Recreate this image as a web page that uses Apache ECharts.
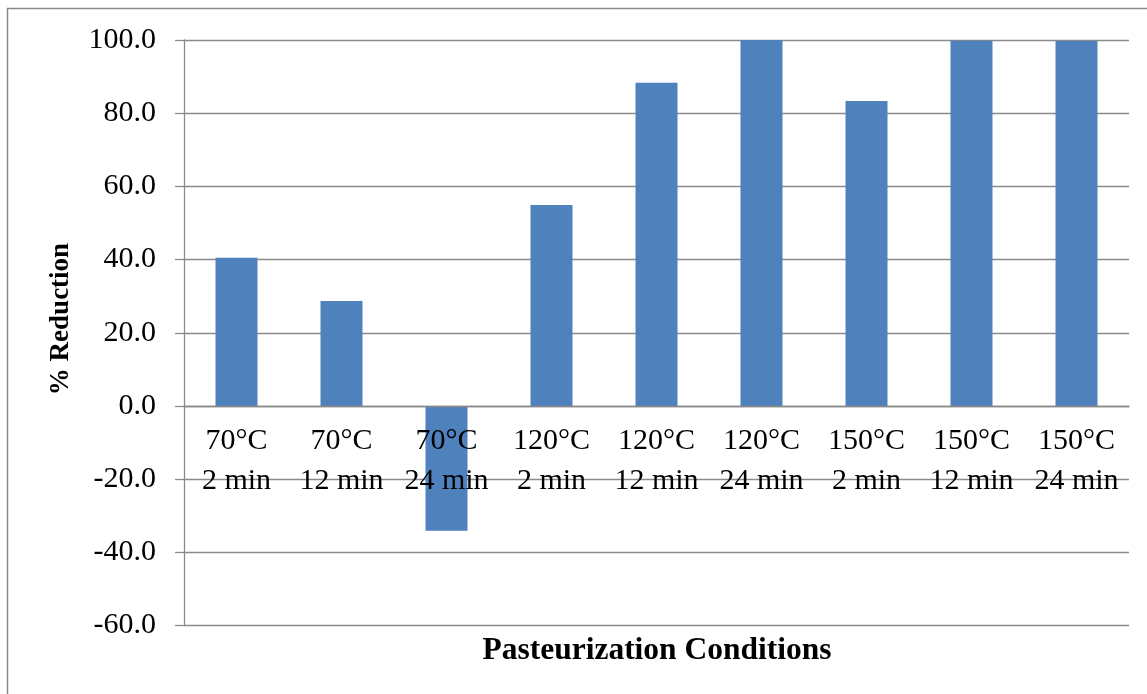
<!DOCTYPE html>
<html>
<head>
<meta charset="utf-8">
<script src="https://cdn.jsdelivr.net/npm/echarts@6/dist/echarts.min.js"></script>
<style>
  html, body { margin: 0; padding: 0; background: #fff; }
  #main { width: 1147px; height: 694px; }
</style>
</head>
<body>
<div id="main"></div>
<script>
// data
const conditions = [
  '70°C\n2 min', '70°C\n12 min', '70°C\n24 min',
  '120°C\n2 min', '120°C\n12 min', '120°C\n24 min',
  '150°C\n2 min', '150°C\n12 min', '150°C\n24 min'
]
const reduction = [40.5, 28.7, -34.1, 54.9, 88.3, 100.0, 83.3, 99.8, 99.7]
const yMin = -60
const yMax = 100
const yStep = 20

const xTitle = 'Pasteurization Conditions'
const yTitle = '% Reduction'

const lineGray = '#8a8a8a'
const font = '"Liberation Serif", "Times New Roman", serif'

// plot box
const gridTop = 40
const gridHeight = 585.5
// distance from bottom of plot up to the zero line
const zeroOffset = gridHeight * (0 - yMin) / (yMax - yMin)

const chart = echarts.init(document.getElementById('main'))

chart.setOption({
  animation: false,
  grid: { left: 184, top: gridTop, width: 945, height: gridHeight, outerBoundsMode: 'none' },
  xAxis: {
    type: 'category',
    data: conditions,
    z: 3,
    offset: -zeroOffset,
    axisLine: { onZero: false, lineStyle: { color: lineGray, width: 1.3 } },
    axisTick: { show: false },
    axisLabel: {
      interval: 0,
      margin: 15,
      color: '#000',
      fontFamily: font,
      fontSize: 30,
      lineHeight: 40
    }
  },
  yAxis: {
    type: 'value',
    min: yMin,
    max: yMax,
    interval: yStep,
    axisLine: { show: true, lineStyle: { color: lineGray, width: 1.3 } },
    axisTick: { show: true, inside: false, length: 9, lineStyle: { color: lineGray, width: 1.3 } },
    splitLine: { lineStyle: { color: lineGray, width: 1.3 } },
    axisLabel: {
      margin: 28,
      color: '#000',
      fontFamily: font,
      fontSize: 30,
      formatter: v => v.toFixed(1)
    }
  },
  series: [{
    type: 'bar',
    data: reduction,
    barWidth: '40%',
    itemStyle: { color: '#4f81bd' }
  }],
  graphic: [
    {
      type: 'rect',
      shape: { x: 7.5, y: 8.5, width: 2000, height: 2000 },
      style: { fill: 'none', stroke: lineGray, lineWidth: 1.5 },
      silent: true
    },
    {
      type: 'text',
      x: 657,
      y: 651,
      style: {
        text: xTitle,
        fill: '#000',
        font: 'bold 31.5px ' + font,
        textAlign: 'center',
        textVerticalAlign: 'middle'
      }
    },
    {
      type: 'text',
      x: 61,
      y: 319,
      rotation: Math.PI / 2,
      style: {
        text: yTitle,
        fill: '#000',
        font: 'bold 27px ' + font,
        textAlign: 'center',
        textVerticalAlign: 'middle'
      }
    }
  ]
})
</script>
</body>
</html>
